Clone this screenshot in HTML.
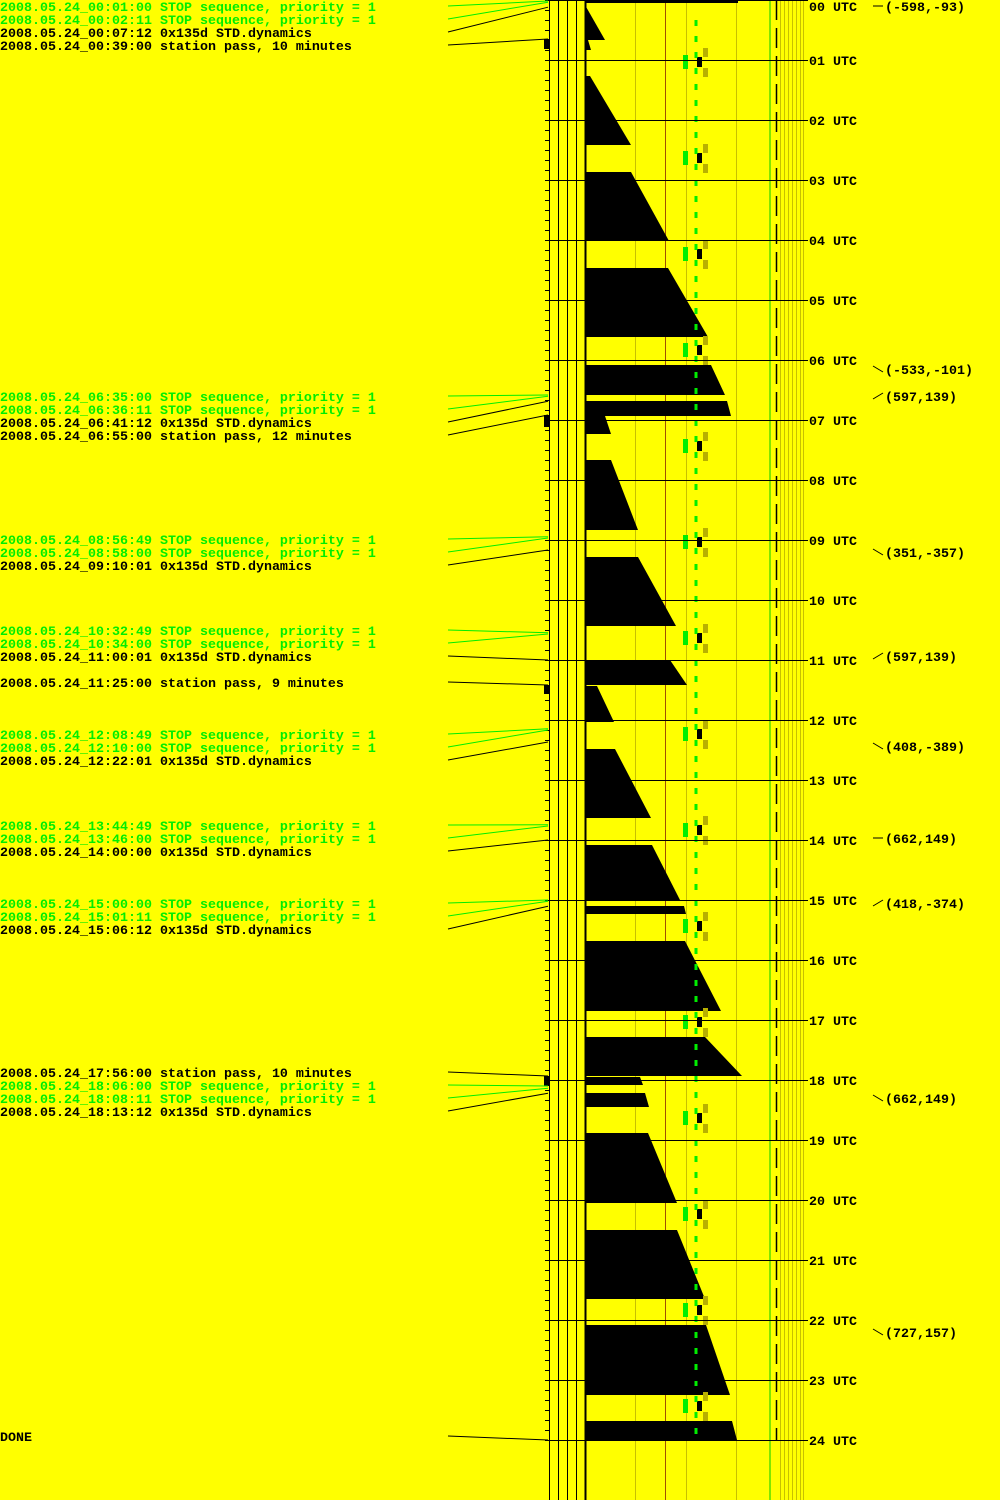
<!DOCTYPE html>
<html><head><meta charset="utf-8"><style>
html,body{margin:0;padding:0;background:#ffff00;}
svg{display:block;}
text{font-family:"Liberation Mono",monospace;font-weight:bold;font-size:13.33px;}
.g{fill:#00ee00}.k{fill:#000}
</style></head><body>
<svg id="s" width="1000" height="1500" xmlns="http://www.w3.org/2000/svg">
<rect width="1000" height="1500" fill="#ffff00"/>
<g id="geo"></g>
<g>
<text x="0" y="11" class="g">2008.05.24_00:01:00 STOP sequence, priority = 1</text>
<text x="0" y="24" class="g">2008.05.24_00:02:11 STOP sequence, priority = 1</text>
<text x="0" y="37" class="k">2008.05.24_00:07:12 0x135d STD.dynamics</text>
<text x="0" y="50" class="k">2008.05.24_00:39:00 station pass, 10 minutes</text>
<text x="0" y="401" class="g">2008.05.24_06:35:00 STOP sequence, priority = 1</text>
<text x="0" y="414" class="g">2008.05.24_06:36:11 STOP sequence, priority = 1</text>
<text x="0" y="427" class="k">2008.05.24_06:41:12 0x135d STD.dynamics</text>
<text x="0" y="440" class="k">2008.05.24_06:55:00 station pass, 12 minutes</text>
<text x="0" y="544" class="g">2008.05.24_08:56:49 STOP sequence, priority = 1</text>
<text x="0" y="557" class="g">2008.05.24_08:58:00 STOP sequence, priority = 1</text>
<text x="0" y="570" class="k">2008.05.24_09:10:01 0x135d STD.dynamics</text>
<text x="0" y="635" class="g">2008.05.24_10:32:49 STOP sequence, priority = 1</text>
<text x="0" y="648" class="g">2008.05.24_10:34:00 STOP sequence, priority = 1</text>
<text x="0" y="661" class="k">2008.05.24_11:00:01 0x135d STD.dynamics</text>
<text x="0" y="687" class="k">2008.05.24_11:25:00 station pass, 9 minutes</text>
<text x="0" y="739" class="g">2008.05.24_12:08:49 STOP sequence, priority = 1</text>
<text x="0" y="752" class="g">2008.05.24_12:10:00 STOP sequence, priority = 1</text>
<text x="0" y="765" class="k">2008.05.24_12:22:01 0x135d STD.dynamics</text>
<text x="0" y="830" class="g">2008.05.24_13:44:49 STOP sequence, priority = 1</text>
<text x="0" y="843" class="g">2008.05.24_13:46:00 STOP sequence, priority = 1</text>
<text x="0" y="856" class="k">2008.05.24_14:00:00 0x135d STD.dynamics</text>
<text x="0" y="908" class="g">2008.05.24_15:00:00 STOP sequence, priority = 1</text>
<text x="0" y="921" class="g">2008.05.24_15:01:11 STOP sequence, priority = 1</text>
<text x="0" y="934" class="k">2008.05.24_15:06:12 0x135d STD.dynamics</text>
<text x="0" y="1077" class="k">2008.05.24_17:56:00 station pass, 10 minutes</text>
<text x="0" y="1090" class="g">2008.05.24_18:06:00 STOP sequence, priority = 1</text>
<text x="0" y="1103" class="g">2008.05.24_18:08:11 STOP sequence, priority = 1</text>
<text x="0" y="1116" class="k">2008.05.24_18:13:12 0x135d STD.dynamics</text>
<text x="0" y="1441" class="k">DONE</text>
</g>
<g class="k">
<text x="809" y="11">00 UTC</text><text x="809" y="65">01 UTC</text><text x="809" y="125">02 UTC</text>
<text x="809" y="185">03 UTC</text><text x="809" y="245">04 UTC</text><text x="809" y="305">05 UTC</text>
<text x="809" y="365">06 UTC</text><text x="809" y="425">07 UTC</text><text x="809" y="485">08 UTC</text>
<text x="809" y="545">09 UTC</text><text x="809" y="605">10 UTC</text><text x="809" y="665">11 UTC</text>
<text x="809" y="725">12 UTC</text><text x="809" y="785">13 UTC</text><text x="809" y="845">14 UTC</text>
<text x="809" y="905">15 UTC</text><text x="809" y="965">16 UTC</text><text x="809" y="1025">17 UTC</text>
<text x="809" y="1085">18 UTC</text><text x="809" y="1145">19 UTC</text><text x="809" y="1205">20 UTC</text>
<text x="809" y="1265">21 UTC</text><text x="809" y="1325">22 UTC</text><text x="809" y="1385">23 UTC</text>
<text x="809" y="1445">24 UTC</text>
<text x="885" y="11">(-598,-93)</text>
<text x="885" y="374">(-533,-101)</text>
<text x="885" y="401">(597,139)</text>
<text x="885" y="557">(351,-357)</text>
<text x="885" y="661">(597,139)</text>
<text x="885" y="751">(408,-389)</text>
<text x="885" y="843">(662,149)</text>
<text x="885" y="908">(418,-374)</text>
<text x="885" y="1103">(662,149)</text>
<text x="885" y="1337">(727,157)</text>
</g>
</svg>
<script>
var G=document.getElementById("geo"),h="";
function L(x1,y1,x2,y2,c,w){h+='<line x1="'+x1+'" y1="'+y1+'" x2="'+x2+'" y2="'+y2+'" stroke="'+c+'" stroke-width="'+(w||1)+'"/>';}
function R(x,y,w,hh,c){h+='<rect x="'+x+'" y="'+y+'" width="'+w+'" height="'+hh+'" fill="'+c+'"/>';}
function P(p){h+='<polygon points="'+p+'" fill="#000"/>';}
[635,686,736].forEach(function(x){L(x+.5,0,x+.5,1500,"#c8c000");});
L(665.5,0,665.5,1500,"#a05000");
[780,784,788,792,796,800,803].forEach(function(x){L(x+.5,0,x+.5,1500,"#c8c000");});
L(770,0,770,1500,"#00cc00");
var T=[[5,40,585,605],[40,50,588,591],[76,145,590,631],[172,241,631,669],[268,337,668,708],[365,395,711,725],[401,416,727,731],[416,434,605,611],[460,530,611,638],[557,626,638,676],[660,685,670,687],[686,722,597,614],[749,818,615,651],[845,900,652,680],[906,914,684,686],[941,1011,685,721],[1037,1076,705,742],[1077,1085,640,643],[1093,1107,645,649],[1133,1203,648,677],[1230,1299,677,705],[1325,1395,706,730],[1421,1440,732,737]];
T.forEach(function(t){P("585,"+t[0]+" "+t[2]+","+t[0]+" "+t[3]+","+t[1]+" 585,"+t[1]);});
R(585,0,153,3,"#000");
for(var i=0;i<15;i++){var y=57+96*i;R(697,y,5,10,"#000");R(703,y-9,5,9,"#b8b000");R(703,y+11,5,9,"#b8b000");R(683,y-2,5,14,"#00ee00");}
h+='<line x1="696" y1="20" x2="696" y2="1436" stroke="#00ee00" stroke-width="3" stroke-dasharray="6,10"/>';
for(var k=0;k<=24;k++){L(545,k*60+.5,808,k*60+.5,"#000");}
for(var y=0;y<=1440;y+=10){L(545,y+.5,550,y+.5,"#000");}
[549,558,567,576].forEach(function(x){L(x+.5,0,x+.5,1500,"#000");});
L(585.5,0,585.5,1500,"#000",2);
h+='<line x1="776.5" y1="0" x2="776.5" y2="1440" stroke="#000" stroke-width="1.5" stroke-dasharray="20,8"/>';
R(544,39,5,10,"#000");R(544,415,5,12,"#000");R(544,685,5,9,"#000");R(544,1076,5,10,"#000");
var C=[[6,1,1],[19,2.2,1],[32,7.2,0],[45,39,0],[396,395,1],[409,396.2,1],[422,401.2,0],[435,415,0],[539,536.8,1],[552,538,1],[565,550,0],[630,632.8,1],[643,634,1],[656,660,0],[682,685,0],[734,728.8,1],[747,730,1],[760,742,0],[825,824.8,1],[838,826,1],[851,840,0],[903,900,1],[916,901.2,1],[929,906.2,0],[1072,1076,0],[1085,1086,1],[1098,1088.2,1],[1111,1093.2,0],[1436,1440,0]];
C.forEach(function(c){L(448,c[0],548,c[1],c[2]?"#00ee00":"#000");});
[[6,0],[369,1],[396,-1],[552,1],[656,-1],[746,1],[838,0],[903,-1],[1098,1],[1332,1]].forEach(function(t){L(873,t[0]-3*t[1],883,t[0]+3*t[1],"#000");});
G.innerHTML=h;
</script>
</body></html>
